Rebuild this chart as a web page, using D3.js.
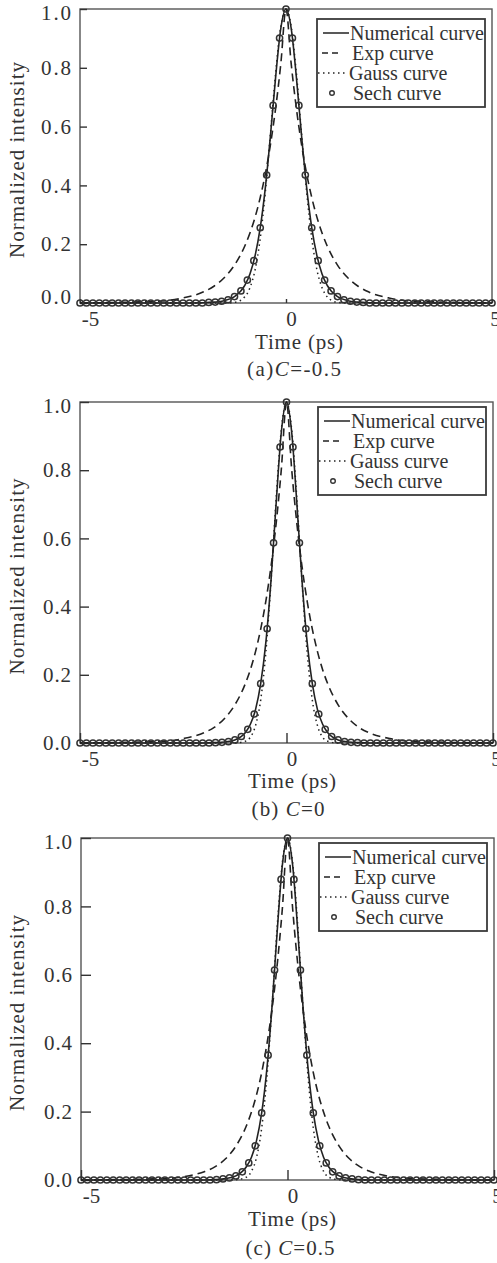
<!DOCTYPE html>
<html>
<head>
<meta charset="utf-8">
<script src="https://cdn.jsdelivr.net/npm/d3@7"></script>
<style>
body { margin: 0; background: #fff; }
svg text { font-family: "Liberation Serif", "Times New Roman", serif; fill: #333; }
</style>
</head>
<body>
<svg id="chart" width="497" height="1263"></svg>
<script>
// time grid of the sech markers (ps)
var tGrid = [-5, -4.844, -4.688, -4.531, -4.375, -4.219, -4.063, -3.906, -3.75, -3.594, -3.438, -3.281,
    -3.125, -2.969, -2.813, -2.656, -2.5, -2.344, -2.188, -2.031, -1.875, -1.719, -1.563, -1.406,
    -1.25, -1.094, -0.938, -0.781, -0.625, -0.469, -0.313, -0.156, 0, 0.156, 0.313, 0.469, 0.625,
    0.781, 0.938, 1.094, 1.25, 1.406, 1.563, 1.719, 1.875, 2.031, 2.188, 2.344, 2.5, 2.656, 2.813,
    2.969, 3.125, 3.281, 3.438, 3.594, 3.75, 3.906, 4.063, 4.219, 4.375, 4.531, 4.688, 4.844, 5];

// time points of the line curves (ps)
var lineT = [-5, -3, -2.5, -2, -1.75, -1.5, -1.25, -1, -0.875, -0.75, -0.625, -0.5, -0.375, -0.25, -0.125,
    0, 0.125, 0.25, 0.375, 0.5, 0.625, 0.75, 0.875, 1, 1.25, 1.5, 1.75, 2, 2.5, 3, 5];

var yTicks = [0, 0.2, 0.4, 0.6, 0.8, 1.0];
var xTicks = [-5, 0, 5];
var legendLabels = ["Numerical curve", "Exp curve", "Gauss curve", "Sech curve"];
var captionPre = ["(a)", "(b) ", "(c) "];
var captionVal = ["=-0.5", "=0", "=0.5"];

// (a) C=-0.5
var numA = [0, 0, 0, 0.001, 0.003, 0.008, 0.022, 0.060, 0.099, 0.161, 0.256, 0.394, 0.573, 0.771, 0.935,
    1, 0.935, 0.771, 0.573, 0.394, 0.256, 0.161, 0.099, 0.060, 0.022, 0.008, 0.003, 0.001, 0, 0, 0];
var expA = [0, 0.007, 0.017, 0.038, 0.057, 0.086, 0.129, 0.194, 0.238, 0.292, 0.359, 0.440, 0.541, 0.664, 0.815,
    1, 0.815, 0.664, 0.541, 0.440, 0.359, 0.292, 0.238, 0.194, 0.129, 0.086, 0.057, 0.038, 0.017, 0.007, 0];
var gaussA = [0, 0, 0, 0, 0, 0, 0.002, 0.021, 0.052, 0.113, 0.220, 0.380, 0.580, 0.785, 0.941,
    1, 0.941, 0.785, 0.580, 0.380, 0.220, 0.113, 0.052, 0.021, 0.002, 0, 0, 0, 0, 0, 0];
var sechA = [0, 0, 0, 0, 0, 0, 0, 0, 0, 0, 0, 0, 0, 0, 0, 0, 0, 0, 0, 0,
    0.002, 0.003, 0.006, 0.011, 0.022, 0.041, 0.078, 0.144, 0.256, 0.435, 0.672, 0.901, 1,
    0.901, 0.672, 0.435, 0.256, 0.144, 0.078, 0.041, 0.022, 0.011, 0.006, 0.003, 0.002,
    0, 0, 0, 0, 0, 0, 0, 0, 0, 0, 0, 0, 0, 0, 0, 0, 0, 0, 0, 0];

// (b) C=0
var numB = [0, 0, 0, 0, 0.001, 0.003, 0.009, 0.030, 0.055, 0.098, 0.174, 0.295, 0.477, 0.704, 0.912,
    1, 0.912, 0.704, 0.477, 0.295, 0.174, 0.098, 0.055, 0.030, 0.009, 0.003, 0.001, 0, 0, 0, 0];
var expB = [0, 0.005, 0.013, 0.030, 0.046, 0.072, 0.112, 0.173, 0.215, 0.268, 0.334, 0.416, 0.518, 0.645, 0.803,
    1, 0.803, 0.645, 0.518, 0.416, 0.334, 0.268, 0.215, 0.173, 0.112, 0.072, 0.046, 0.030, 0.013, 0.005, 0];
var gaussB = [0, 0, 0, 0, 0, 0, 0, 0.005, 0.017, 0.051, 0.126, 0.266, 0.474, 0.718, 0.920,
    1, 0.920, 0.718, 0.474, 0.266, 0.126, 0.051, 0.017, 0.005, 0, 0, 0, 0, 0, 0, 0];
var sechB = [0, 0, 0, 0, 0, 0, 0, 0, 0, 0, 0, 0, 0, 0, 0, 0, 0, 0, 0, 0,
    0, 0.001, 0.002, 0.004, 0.009, 0.019, 0.040, 0.085, 0.174, 0.335, 0.587, 0.868, 1,
    0.868, 0.587, 0.335, 0.174, 0.085, 0.040, 0.019, 0.009, 0.004, 0.002, 0.001, 0,
    0, 0, 0, 0, 0, 0, 0, 0, 0, 0, 0, 0, 0, 0, 0, 0, 0, 0, 0, 0];

// (c) C=0.5
var numC = [0, 0, 0, 0, 0.001, 0.004, 0.012, 0.038, 0.066, 0.115, 0.196, 0.324, 0.507, 0.726, 0.920,
    1, 0.920, 0.726, 0.507, 0.324, 0.196, 0.115, 0.066, 0.038, 0.012, 0.004, 0.001, 0, 0, 0, 0];
var expC = [0, 0.004, 0.010, 0.025, 0.039, 0.062, 0.099, 0.157, 0.198, 0.249, 0.314, 0.396, 0.499, 0.629, 0.793,
    1, 0.793, 0.629, 0.499, 0.396, 0.314, 0.249, 0.198, 0.157, 0.099, 0.062, 0.039, 0.025, 0.010, 0.004, 0];
var gaussC = [0, 0, 0, 0, 0, 0, 0.001, 0.008, 0.025, 0.066, 0.152, 0.299, 0.507, 0.740, 0.927,
    1, 0.927, 0.740, 0.507, 0.299, 0.152, 0.066, 0.025, 0.008, 0.001, 0, 0, 0, 0, 0, 0];
var sechC = [0, 0, 0, 0, 0, 0, 0, 0, 0, 0, 0, 0, 0, 0, 0, 0, 0, 0, 0, 0,
    0, 0.001, 0.003, 0.006, 0.012, 0.024, 0.050, 0.100, 0.196, 0.365, 0.614, 0.879, 1,
    0.879, 0.614, 0.365, 0.196, 0.100, 0.050, 0.024, 0.012, 0.006, 0.003, 0.001, 0,
    0, 0, 0, 0, 0, 0, 0, 0, 0, 0, 0, 0, 0, 0, 0, 0, 0, 0, 0, 0];

var numerical = [numA, numB, numC];
var expCurve = [expA, expB, expC];
var gauss = [gaussA, gaussB, gaussC];
var sech = [sechA, sechB, sechC];

// page layout of the three panels
var layout = [
    {top: 9, bottom: 303, left: 80, right: 492, xTick: 4, yTick: 7, legX: 317, legY: 19, zeroUp: 6,
        tickW: 30, timeX: 299, timeDy: 46, capX: 294, capDy: 73, capW: 94},
    {top: 402, bottom: 743, left: 80, right: 493, xTick: 10, yTick: 9, legX: 318, legY: 407, zeroUp: 0,
        tickW: 28, timeX: 292, timeDy: 45, capX: 288, capDy: 73, capW: 73},
    {top: 838, bottom: 1180, left: 81, right: 494, xTick: 10, yTick: 10, legX: 319, legY: 843, zeroUp: 0,
        tickW: 28, timeX: 292, timeDy: 46, capX: 290, capDy: 75, capW: 89}
];

var svg = d3.select("#chart");
var ink = "#222";

function drawPanel(p, k) {
    var x = d3.scaleLinear().domain([-5, 5]).range([p.left, p.right]);
    var y = d3.scaleLinear().domain([0, 1]).range([p.bottom, p.top]);
    var g = svg.append("g");

    g.append("rect")
        .attr("x", p.left).attr("y", p.top)
        .attr("width", p.right - p.left).attr("height", p.bottom - p.top)
        .attr("fill", "none").attr("stroke", "#555").attr("stroke-width", 1.4);

    var ya = g.append("g")
        .attr("transform", "translate(" + p.left + ",0)")
        .call(d3.axisLeft(y).tickValues(yTicks).tickFormat(d3.format(".1f"))
            .tickSizeInner(-p.yTick).tickSizeOuter(0).tickPadding(9));
    ya.attr("font-size", 21).attr("font-family", null);
    ya.select(".domain").remove();
    ya.selectAll("line").attr("stroke", "#333").attr("stroke-width", 1.4);
    ya.selectAll("text")
        .attr("textLength", p.tickW).attr("lengthAdjust", "spacing")
        .attr("dy", function(d) {
            if (d === 1) return "0.52em";
            if (d === 0 && p.zeroUp) return (0.32 - p.zeroUp / 21).toFixed(2) + "em";
            return "0.32em";
        });

    var xa = g.append("g")
        .attr("transform", "translate(0," + p.bottom + ")")
        .call(d3.axisBottom(x).tickValues(xTicks).tickFormat(function(d) { return String(d); })
            .tickSizeInner(-p.xTick).tickSizeOuter(0).tickPadding(8));
    xa.attr("font-size", 21).attr("font-family", null);
    xa.select(".domain").remove();
    xa.selectAll("line").attr("stroke", "#333").attr("stroke-width", 1.4);
    xa.selectAll("text").attr("dx", function(d) { return d < 0 ? 10 : (d > 0 ? 3 : 5); });

    var line = d3.line()
        .x(function(d, i) { return x(lineT[i]); })
        .y(function(d) { return y(d); })
        .curve(d3.curveMonotoneX);

    g.append("path").attr("d", line(expCurve[k]))
        .attr("fill", "none").attr("stroke", ink).attr("stroke-width", 1.6)
        .attr("stroke-dasharray", "8,5");
    g.append("path").attr("d", line(gauss[k]))
        .attr("fill", "none").attr("stroke", ink).attr("stroke-width", 1.5)
        .attr("stroke-dasharray", "1.5,3.5");
    g.append("path").attr("d", line(numerical[k]))
        .attr("fill", "none").attr("stroke", ink).attr("stroke-width", 1.6);

    g.selectAll("circle.sech")
        .data(sech[k])
        .join("circle")
        .attr("class", "sech")
        .attr("cx", function(d, i) { return x(tGrid[i]); })
        .attr("cy", function(d) { return y(d); })
        .attr("r", 3.1)
        .attr("fill", "none").attr("stroke", "#333").attr("stroke-width", 1.5);

    // legend
    var lg = g.append("g").attr("transform", "translate(" + p.legX + "," + p.legY + ")");
    lg.append("rect").attr("width", 168).attr("height", 88)
        .attr("fill", "#fff").attr("stroke", "#3a3a3a").attr("stroke-width", 1.8);
    var rowY = function(i) { return 14 + i * 20; };
    lg.append("line").attr("x1", 6).attr("x2", 32).attr("y1", rowY(0)).attr("y2", rowY(0))
        .attr("stroke", ink).attr("stroke-width", 1.5);
    lg.append("line").attr("x1", 5).attr("x2", 22).attr("y1", rowY(1)).attr("y2", rowY(1))
        .attr("stroke", ink).attr("stroke-width", 1.5).attr("stroke-dasharray", "6,4");
    lg.append("line").attr("x1", 1).attr("x2", 31).attr("y1", rowY(2)).attr("y2", rowY(2))
        .attr("stroke", ink).attr("stroke-width", 1.5).attr("stroke-dasharray", "1.5,3.5");
    lg.append("circle").attr("cx", 15).attr("cy", rowY(3)).attr("r", 2.3)
        .attr("fill", "none").attr("stroke", "#333").attr("stroke-width", 1.4);
    var textX = [33, 35, 32, 36];
    lg.selectAll("text.leg")
        .data(legendLabels)
        .join("text")
        .attr("class", "leg")
        .attr("x", function(d, i) { return textX[i]; })
        .attr("y", function(d, i) { return rowY(i) + 7; })
        .attr("font-size", 20)
        .text(function(d) { return d; });

    // axis titles
    g.append("text")
        .attr("x", p.timeX).attr("y", p.bottom + p.timeDy)
        .attr("text-anchor", "middle").attr("font-size", 21)
        .attr("textLength", 88).attr("lengthAdjust", "spacing")
        .text("Time (ps)");
    var cap = g.append("text")
        .attr("x", p.capX).attr("y", p.bottom + p.capDy)
        .attr("text-anchor", "middle").attr("font-size", 21)
        .attr("textLength", p.capW).attr("lengthAdjust", "spacing");
    cap.append("tspan").text(captionPre[k]);
    cap.append("tspan").attr("font-style", "italic").text("C");
    cap.append("tspan").text(captionVal[k]);

    var midY = (p.top + p.bottom) / 2 + 4;
    g.append("text")
        .attr("transform", "translate(24," + midY + ") rotate(-90)")
        .attr("text-anchor", "middle").attr("font-size", 21)
        .attr("textLength", 196).attr("lengthAdjust", "spacing")
        .text("Normalized intensity");
}

layout.forEach(drawPanel);
</script>
</body>
</html>
